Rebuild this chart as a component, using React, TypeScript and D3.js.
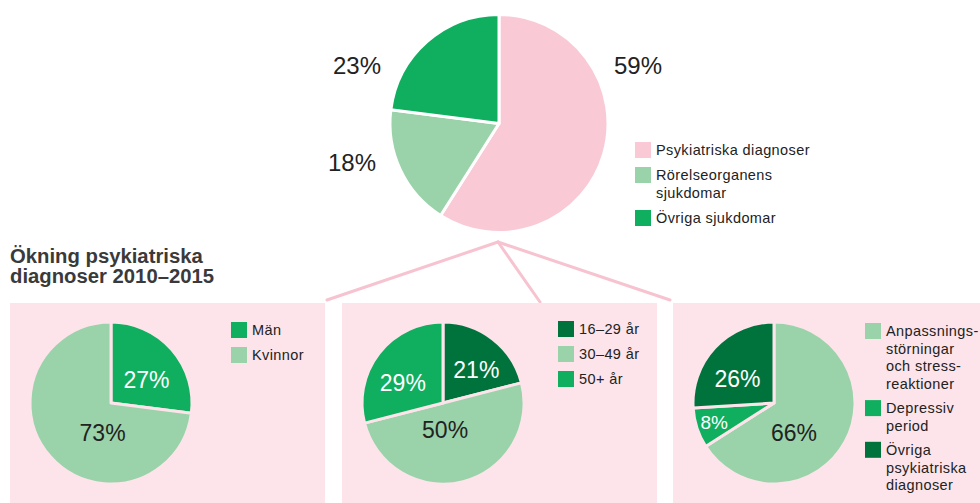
import React from "react";
import * as d3 from "d3";

// ---------- data ----------
const topCategories = ["Psykiatriska diagnoser", "Rörelseorganens sjukdomar", "Övriga sjukdomar"];
const topValues = [59, 18, 23];
const topLegendLines = [["Psykiatriska diagnoser"], ["Rörelseorganens", "sjukdomar"], ["Övriga sjukdomar"]];

const title = ["Ökning psykiatriska", "diagnoser 2010–2015"];

const genderCategories = ["Män", "Kvinnor"];
const genderValues = [27, 73];

const ageCategories = ["16–29 år", "30–49 år", "50+ år"];
const ageValues = [21, 50, 29];

const diagCategories = ["Anpassningsstörningar och stressreaktioner", "Depressiv period", "Övriga psykiatriska diagnoser"];
const diagValues = [66, 8, 26];
const diagLegendLines = [["Anpassnings-", "störningar", "och stress-", "reaktioner"], ["Depressiv", "period"], ["Övriga", "psykiatriska", "diagnoser"]];

// ---------- styles / layout ----------
const C = {
  pink: "#f9cad6",
  light: "#9ad2a9",
  mid: "#10ae5f",
  dark: "#00733d",
  panel: "#fce4ea",
  text: "#222222",
  title: "#3a3a3a",
  line: "#f7c3d0",
};
const FONT = "'Liberation Sans', Arial, Helvetica, sans-serif";

type PanelSpec = {
  x: number;
  cats: string[];
  vals: number[];
  colors: string[];
  labelColors: string[];
  legend: string[][];
  legendX: number;
  legendY: number;
  nudges: { k: number; dx: number; dy: number; size: number }[];
};

const panels: PanelSpec[] = [
  {
    x: 10,
    cats: genderCategories,
    vals: genderValues,
    colors: [C.mid, C.light],
    labelColors: ["#fff", C.text],
    legend: genderCategories.map((c) => [c]),
    legendX: 231,
    legendY: 322,
    nudges: [
      { k: 0.55, dx: 2, dy: 6, size: 23 },
      { k: 0.55, dx: 25, dy: 0, size: 23 },
    ],
  },
  {
    x: 342,
    cats: ageCategories,
    vals: ageValues,
    colors: [C.dark, C.light, C.mid],
    labelColors: ["#fff", C.text, "#fff"],
    legend: ageCategories.map((c) => [c]),
    legendX: 558,
    legendY: 321,
    nudges: [
      { k: 0.55, dx: 6, dy: 2, size: 23 },
      { k: 0.55, dx: -9, dy: -16, size: 23 },
      { k: 0.55, dx: -5, dy: 7, size: 23 },
    ],
  },
  {
    x: 673,
    cats: diagCategories,
    vals: diagValues,
    colors: [C.light, C.mid, C.dark],
    labelColors: [C.text, "#fff", "#fff"],
    legend: diagLegendLines,
    legendX: 865,
    legendY: 323,
    nudges: [
      { k: 0.55, dx: -19, dy: 8, size: 23 },
      { k: 0.75, dx: -2, dy: 1, size: 19 },
      { k: 0.55, dx: -4, dy: 6, size: 23 },
    ],
  },
];

const TOP = { cx: 499, cy: 123.5, r: 109 };
const topLabelPos = [
  { dx: 139, dy: -58 },
  { dx: -147, dy: 39 },
  { dx: -142, dy: -58 },
];
const PANEL = { y: 303, w: 315, h: 210, pieCx: 101, pieCy: 403, r: 81 };
const APEX = { x: 498, y: 242 };
const connectorEnds = [
  { x: 327, y: 300 },
  { x: 540, y: 302 },
  { x: 670, y: 300 },
];
const LEGEND_FONT = 14.5;
const LEGEND_SPACING = 0.4;

function Legend({ x, y, items, colors, lineH, gap }: { x: number; y: number; items: string[][]; colors: string[]; lineH: number; gap: number }) {
  let yy = y;
  const out: React.ReactNode[] = [];
  items.forEach((lines, i) => {
    out.push(<rect key={"r" + i} x={x} y={yy} width={16} height={16} fill={colors[i]} />);
    lines.forEach((ln, j) => {
      out.push(
        <text
          key={"t" + i + "-" + j}
          x={x + 21}
          y={yy + 8 + j * lineH}
          dy="0.35em"
          fontSize={LEGEND_FONT}
          letterSpacing={LEGEND_SPACING}
          fill={C.text}
          fontFamily={FONT}
        >
          {ln}
        </text>
      );
    });
    yy += (lines.length - 1) * lineH + gap;
  });
  return <g>{out}</g>;
}

export default function App() {
  const pieGen = d3.pie<number>().sort(null).value((d) => d);
  const topArcs = pieGen(topValues);
  const topArc = d3.arc<d3.PieArcDatum<number>>().innerRadius(0).outerRadius(TOP.r);
  const topColors = [C.pink, C.light, C.mid];

  return (
    <svg width={980} height={503} style={{ position: "absolute", left: 0, top: 0, background: "#fff" }} fontFamily={FONT}>
      {/* connector lines */}
      {connectorEnds.map((e, i) => (
        <line key={i} x1={APEX.x} y1={APEX.y} x2={e.x} y2={e.y} stroke={C.line} strokeWidth={3} strokeLinecap="round" />
      ))}

      {/* top pie */}
      <g transform={`translate(${TOP.cx},${TOP.cy})`}>
        {topArcs.map((a, i) => (
          <path key={i} d={topArc(a) || ""} fill={topColors[i]} stroke="#fff" strokeWidth={3} strokeLinejoin="round" />
        ))}
        {topArcs.map((a, i) => (
          <text key={"l" + i} x={topLabelPos[i].dx} y={topLabelPos[i].dy} dy="0.35em" textAnchor="middle" fontSize={24} fill={C.text}>
            {a.data}%
          </text>
        ))}
      </g>
      <Legend x={635} y={142} items={topLegendLines} colors={topColors} lineH={18} gap={25} />

      {/* title */}
      {title.map((t, i) => (
        <text key={i} x={10} y={263 + i * 20} fontSize={20.3} fontWeight="bold" fill={C.title}>
          {t}
        </text>
      ))}

      {/* panels */}
      {panels.map((p, pi) => {
        const arcs = pieGen(p.vals);
        const arcG = d3.arc<d3.PieArcDatum<number>>().innerRadius(0).outerRadius(PANEL.r);
        return (
          <g key={pi}>
            <rect x={p.x} y={PANEL.y} width={PANEL.w} height={PANEL.h} fill={C.panel} />
            <g transform={`translate(${p.x + PANEL.pieCx},${PANEL.pieCy})`}>
              {arcs.map((a, i) => (
                <path key={i} d={arcG(a) || ""} fill={p.colors[i]} stroke={C.panel} strokeWidth={3} strokeLinejoin="round" />
              ))}
              {arcs.map((a, i) => {
                const n = p.nudges[i];
                const lab = d3.arc<d3.PieArcDatum<number>>().innerRadius(PANEL.r * n.k).outerRadius(PANEL.r * n.k);
                const [cx, cy] = lab.centroid(a);
                return (
                  <text key={"l" + i} x={cx + n.dx} y={cy + n.dy} dy="0.35em" textAnchor="middle" fontSize={n.size} fill={p.labelColors[i]}>
                    {a.data}%
                  </text>
                );
              })}
            </g>
            <Legend x={p.legendX} y={p.legendY} items={p.legend} colors={p.colors} lineH={17.7} gap={pi === 2 ? 24 : 25} />
          </g>
        );
      })}
    </svg>
  );
}
